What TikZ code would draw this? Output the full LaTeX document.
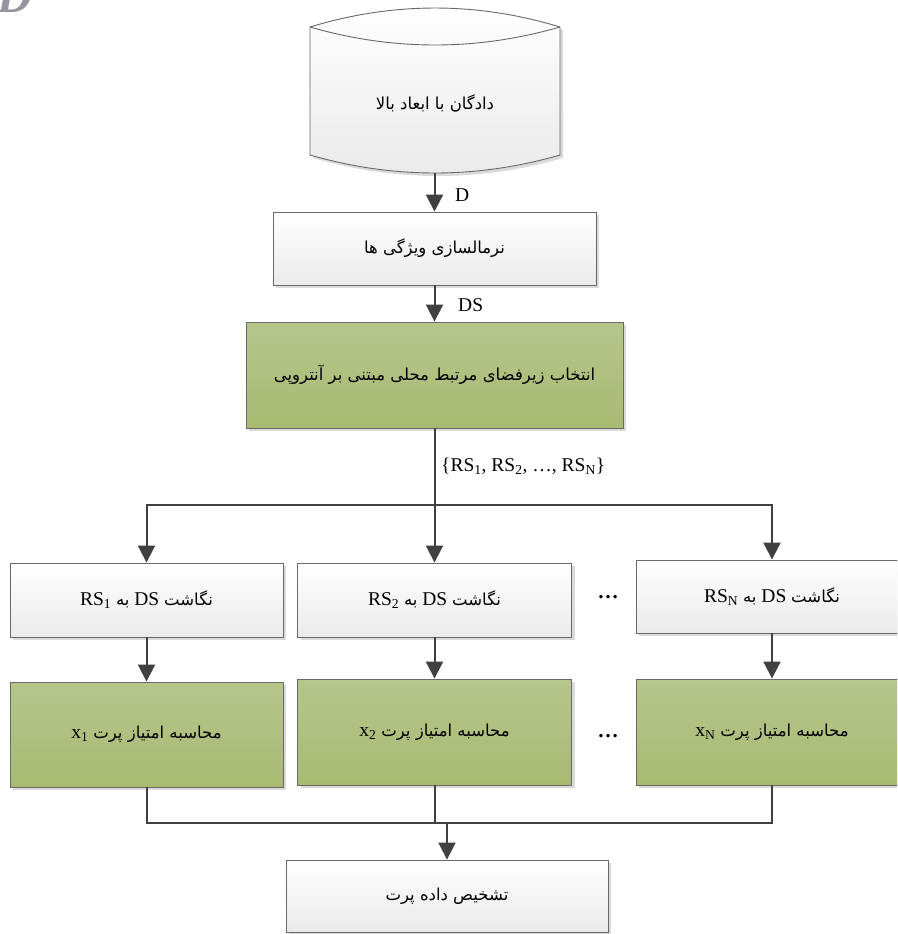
\documentclass[tikz,border=0pt]{standalone}
\usepackage{fontspec}
\setmainfont{Liberation Serif}
\newfontfamily\arabicfont[Script=Arabic]{DejaVu Sans}
\TeXXeTstate=1
\usetikzlibrary{arrows.meta,shadows}
\definecolor{linegray}{RGB}{64,64,64}
\definecolor{bordergray}{RGB}{105,105,105}
\definecolor{greentop}{RGB}{182,198,140}
\definecolor{greenbot}{RGB}{168,186,114}
\definecolor{whitebot}{RGB}{234,234,234}
\definecolor{shadowgray}{RGB}{218,218,218}
\definecolor{dgray}{RGB}{150,150,162}
\newcommand{\fa}[1]{{\arabicfont\fontsize{16.5}{19}\selectfont #1}}
\newcommand{\la}[1]{\beginL #1\endL{}}
\begin{document}
\begin{tikzpicture}[x=1pt,y=-1pt,
  box/.style={rectangle, draw=bordergray, line width=0.9pt, inner sep=0pt,
    font=\fontsize{19.5}{22}\selectfont,
    drop shadow={shadow xshift=3pt,shadow yshift=-3pt,fill=shadowgray,opacity=1}},
  wbox/.style={box, top color=white, bottom color=whitebot},
  gbox/.style={box, top color=greentop, bottom color=greenbot},
  conn/.style={draw=linegray, line width=2pt},
  arr/.style={conn, -{Triangle[width=17pt,length=17pt]}},
  lbl/.style={font=\fontsize{19.5}{22}\selectfont, inner sep=0pt, anchor=west},
]
\useasboundingbox (0,0) rectangle (897,934);
\clip (0,0) rectangle (897,934);

% corner letter
\node[anchor=base west, inner sep=0pt, text=dgray,
  font=\fontsize{48}{52}\selectfont\bfseries\itshape] (corner) at (-3,13) {D};

% cylinder
\path[fill=shadowgray, shift={(3,3)}] (310,27) .. controls (393.3,1.7) and (476.7,1.7) .. (560,27)
  -- (560,155) .. controls (476.7,179) and (393.3,179) .. (310,155) -- cycle;
\draw[draw=bordergray, line width=0.9pt, top color=white, bottom color=whitebot]
  (310,27) .. controls (393.3,1.7) and (476.7,1.7) .. (560,27)
  -- (560,155) .. controls (476.7,179) and (393.3,179) .. (310,155) -- cycle;
\draw[bordergray, line width=0.9pt] (310,27) .. controls (393.3,51) and (476.7,51) .. (560,27);
\node (cyl) at (435,103) {\beginR\fa{دادگان با ابعاد بالا}\endR};
\coordinate (cylbot) at (434.5,173);

% main column
\node[wbox, minimum width=323pt, minimum height=73pt] (norm) at (434.5,248.5)
  {\beginR\fa{نرمالسازی ویژگی ها}\endR};
\node[gbox, minimum width=377pt, minimum height=106pt] (sel) at (434.5,375)
  {\beginR\fa{انتخاب زیرفضای مرتبط محلی مبتنی بر آنتروپی}\endR};

% row 1
\node[wbox, minimum width=273pt, minimum height=74pt] (map1) at (146.5,600)
  {\beginR\fa{نگاشت} \la{DS} \fa{به} \la{RS\textsubscript{1}}\endR};
\node[wbox, minimum width=274pt, minimum height=74pt] (map2) at (434.5,600)
  {\beginR\fa{نگاشت} \la{DS} \fa{به} \la{RS\textsubscript{2}}\endR};
\node[wbox, minimum width=272pt, minimum height=73pt] (mapN) at (772,596.5)
  {\beginR\fa{نگاشت} \la{DS} \fa{به} \la{RS\textsubscript{N}}\endR};

% row 2
\node[gbox, minimum width=273pt, minimum height=105pt] (sc1) at (146.5,734.5)
  {\beginR\fa{محاسبه امتیاز پرت} \la{x\textsubscript{1}}\endR};
\node[gbox, minimum width=274pt, minimum height=106pt] (sc2) at (434.5,732)
  {\beginR\fa{محاسبه امتیاز پرت} \la{x\textsubscript{2}}\endR};
\node[gbox, minimum width=272pt, minimum height=106pt] (scN) at (772,732)
  {\beginR\fa{محاسبه امتیاز پرت} \la{x\textsubscript{N}}\endR};

% final
\node[wbox, minimum width=322pt, minimum height=72pt] (final) at (447,896)
  {\beginR\fa{تشخیص داده پرت}\endR};

% dots
\node[font=\fontsize{21}{24}\selectfont\bfseries] (dots1) at (608,597) {…};
\node[font=\fontsize{21}{24}\selectfont\bfseries] (dots2) at (608,736) {…};

% connectors
\draw[arr] (cylbot) -- (norm.north);
\node[lbl] (lD) at (455,195) {D};
\draw[arr] (norm.south) -- (sel.north);
\node[lbl] (lDS) at (458,305) {DS};
\coordinate (bar) at (434.5,505);
\draw[conn] (sel.south) -- (bar);
\node[lbl] (lset) at (441,466) {\{RS\textsubscript{1}, RS\textsubscript{2}, …, RS\textsubscript{N}\}};
\draw[arr] (bar) -- (map2.north);
\draw[arr] (bar) -| (map1.north);
\draw[arr] (bar) -| (mapN.north);
\draw[arr] (map1.south) -- (sc1.north);
\draw[arr] (map2.south) -- (sc2.north);
\draw[arr] (mapN.south) -- (scN.north);
\coordinate (join) at (447,823);
\draw[conn] (sc1.south) |- (join);
\draw[conn] (sc2.south) |- (join);
\draw[conn] (scN.south) |- (join);
\draw[arr] (join) -- (final.north);
\end{tikzpicture}
\end{document}
